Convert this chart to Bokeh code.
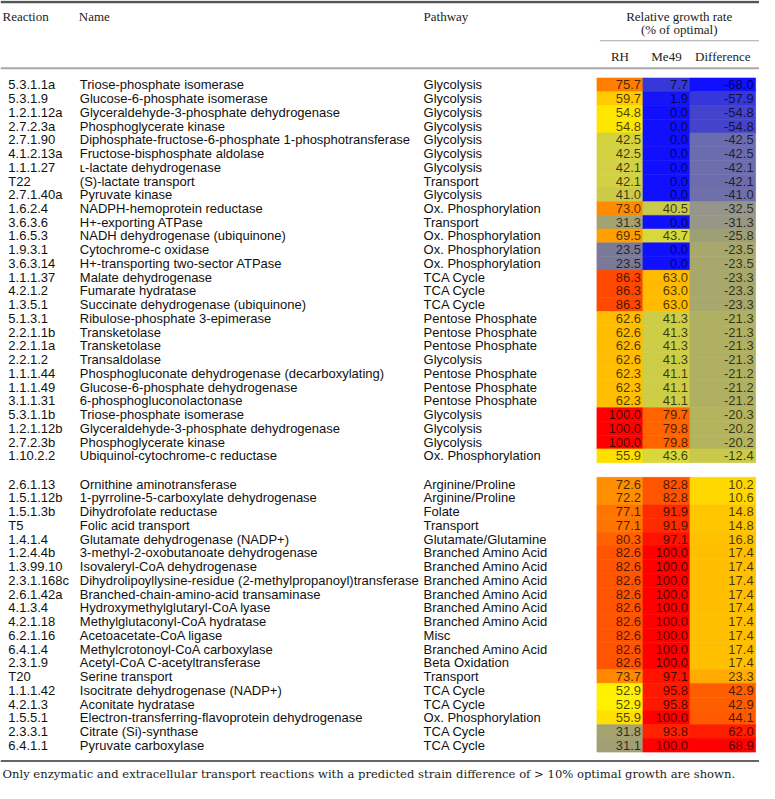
from bokeh.plotting import figure
from bokeh.models import Range1d, LinearColorMapper, ColumnDataSource
from bokeh.transform import transform
from bokeh.core.properties import value
from bokeh.embed import file_html
from bokeh.resources import INLINE

# ---------------- data ----------------
reaction_1 = ["5.3.1.1a", "5.3.1.9", "1.2.1.12a", "2.7.2.3a", "2.7.1.90", "4.1.2.13a", "1.1.1.27",
              "T22", "2.7.1.40a", "1.6.2.4", "3.6.3.6", "1.6.5.3", "1.9.3.1", "3.6.3.14",
              "1.1.1.37", "4.2.1.2", "1.3.5.1", "5.1.3.1", "2.2.1.1b", "2.2.1.1a", "2.2.1.2",
              "1.1.1.44", "1.1.1.49", "3.1.1.31", "5.3.1.1b", "1.2.1.12b", "2.7.2.3b", "1.10.2.2"]
name_1 = ["Triose-phosphate isomerase", "Glucose-6-phosphate isomerase",
          "Glyceraldehyde-3-phosphate dehydrogenase", "Phosphoglycerate kinase",
          "Diphosphate-fructose-6-phosphate 1-phosphotransferase", "Fructose-bisphosphate aldolase",
          "\u029f-lactate dehydrogenase", "(S)-lactate transport", "Pyruvate kinase",
          "NADPH-hemoprotein reductase", "H+-exporting ATPase", "NADH dehydrogenase (ubiquinone)",
          "Cytochrome-c oxidase", "H+-transporting two-sector ATPase", "Malate dehydrogenase",
          "Fumarate hydratase", "Succinate dehydrogenase (ubiquinone)", "Ribulose-phosphate 3-epimerase",
          "Transketolase", "Transketolase", "Transaldolase",
          "Phosphogluconate dehydrogenase (decarboxylating)", "Glucose-6-phosphate dehydrogenase",
          "6-phosphogluconolactonase", "Triose-phosphate isomerase",
          "Glyceraldehyde-3-phosphate dehydrogenase", "Phosphoglycerate kinase",
          "Ubiquinol-cytochrome-c reductase"]
pathway_1 = ["Glycolysis", "Glycolysis", "Glycolysis", "Glycolysis", "Glycolysis", "Glycolysis",
             "Glycolysis", "Transport", "Glycolysis", "Ox. Phosphorylation", "Transport",
             "Ox. Phosphorylation", "Ox. Phosphorylation", "Ox. Phosphorylation", "TCA Cycle",
             "TCA Cycle", "TCA Cycle", "Pentose Phosphate", "Pentose Phosphate", "Pentose Phosphate",
             "Glycolysis", "Pentose Phosphate", "Pentose Phosphate", "Pentose Phosphate",
             "Glycolysis", "Glycolysis", "Glycolysis", "Ox. Phosphorylation"]
rh_1 = [75.7, 59.7, 54.8, 54.8, 42.5, 42.5, 42.1, 42.1, 41.0, 73.0, 31.3, 69.5, 23.5, 23.5,
        86.3, 86.3, 86.3, 62.6, 62.6, 62.6, 62.6, 62.3, 62.3, 62.3, 100.0, 100.0, 100.0, 55.9]
me49_1 = [7.7, 1.9, 0.0, 0.0, 0.0, 0.0, 0.0, 0.0, 0.0, 40.5, 0.0, 43.7, 0.0, 0.0,
          63.0, 63.0, 63.0, 41.3, 41.3, 41.3, 41.3, 41.1, 41.1, 41.1, 79.7, 79.8, 79.8, 43.6]
diff_1 = [-68.0, -57.9, -54.8, -54.8, -42.5, -42.5, -42.1, -42.1, -41.0, -32.5, -31.3, -25.8,
          -23.5, -23.5, -23.3, -23.3, -23.3, -21.3, -21.3, -21.3, -21.3, -21.2, -21.2, -21.2,
          -20.3, -20.2, -20.2, -12.4]

reaction_2 = ["2.6.1.13", "1.5.1.12b", "1.5.1.3b", "T5", "1.4.1.4", "1.2.4.4b", "1.3.99.10",
              "2.3.1.168c", "2.6.1.42a", "4.1.3.4", "4.2.1.18", "6.2.1.16", "6.4.1.4", "2.3.1.9",
              "T20", "1.1.1.42", "4.2.1.3", "1.5.5.1", "2.3.3.1", "6.4.1.1"]
name_2 = ["Ornithine aminotransferase", "1-pyrroline-5-carboxylate dehydrogenase",
          "Dihydrofolate reductase", "Folic acid transport", "Glutamate dehydrogenase (NADP+)",
          "3-methyl-2-oxobutanoate dehydrogenase", "Isovaleryl-CoA dehydrogenase",
          "Dihydrolipoyllysine-residue (2-methylpropanoyl)transferase",
          "Branched-chain-amino-acid transaminase", "Hydroxymethylglutaryl-CoA lyase",
          "Methylglutaconyl-CoA hydratase", "Acetoacetate-CoA ligase",
          "Methylcrotonoyl-CoA carboxylase", "Acetyl-CoA C-acetyltransferase", "Serine transport",
          "Isocitrate dehydrogenase (NADP+)", "Aconitate hydratase",
          "Electron-transferring-flavoprotein dehydrogenase", "Citrate (Si)-synthase",
          "Pyruvate carboxylase"]
pathway_2 = ["Arginine/Proline", "Arginine/Proline", "Folate", "Transport", "Glutamate/Glutamine",
             "Branched Amino Acid", "Branched Amino Acid", "Branched Amino Acid",
             "Branched Amino Acid", "Branched Amino Acid", "Branched Amino Acid", "Misc",
             "Branched Amino Acid", "Beta Oxidation", "Transport", "TCA Cycle", "TCA Cycle",
             "Ox. Phosphorylation", "TCA Cycle", "TCA Cycle"]
rh_2 = [72.6, 72.2, 77.1, 77.1, 80.3, 82.6, 82.6, 82.6, 82.6, 82.6, 82.6, 82.6, 82.6, 82.6,
        73.7, 52.9, 52.9, 55.9, 31.8, 31.1]
me49_2 = [82.8, 82.8, 91.9, 91.9, 97.1, 100.0, 100.0, 100.0, 100.0, 100.0, 100.0, 100.0, 100.0,
          100.0, 97.1, 95.8, 95.8, 100.0, 93.8, 100.0]
diff_2 = [10.2, 10.6, 14.8, 14.8, 16.8, 17.4, 17.4, 17.4, 17.4, 17.4, 17.4, 17.4, 17.4, 17.4,
          23.3, 42.9, 42.9, 44.1, 62.0, 68.9]

col_headers = ["RH", "Me49", "Difference"]
footnote = ("Only enzymatic and extracellular transport reactions with a predicted strain "
            "difference of > 10% optimal growth are shown.")

# ---------------- palette (blue -> grey -> olive -> yellow -> orange -> red) ----------------
anchors = [(0.00, "#1010ff"), (0.02, "#1616f6"), (0.077, "#3a3ad8"), (0.096, "#4444cc"),
           (0.186, "#6c6cae"), (0.235, "#7a7a98"), (0.26, "#96968a"), (0.31, "#a0a074"),
           (0.325, "#a8a86c"), (0.34, "#b0b062"), (0.41, "#cccc48"), (0.43, "#d6d63e"),
           (0.53, "#fff000"), (0.55, "#ffe600"), (0.60, "#ffc800"), (0.63, "#ffbc00"),
           (0.70, "#ff9c00"), (0.73, "#ff8c00"), (0.757, "#ff7e00"), (0.80, "#ff6400"),
           (0.83, "#ff5400"), (0.863, "#ff4800"), (0.92, "#ff2c00"), (0.97, "#ff1400"),
           (1.00, "#ff0000")]


def _rgb(h):
    return tuple(int(h[i:i + 2], 16) for i in (1, 3, 5))


palette = []
for i in range(256):
    t = i / 255
    for (t0, c0), (t1, c1) in zip(anchors[:-1], anchors[1:]):
        if t0 <= t <= t1:
            f = (t - t0) / (t1 - t0) if t1 > t0 else 0
            a, b = _rgb(c0), _rgb(c1)
            palette.append("#%02x%02x%02x" % tuple(round(a[k] + (b[k] - a[k]) * f) for k in range(3)))
            break

growth_mapper = LinearColorMapper(palette=palette, low=0, high=100)
all_diff = diff_1 + diff_2
diff_mapper = LinearColorMapper(palette=palette, low=min(all_diff), high=max(all_diff))

# ---------------- figure ----------------
W, H = 759, 783
p = figure(width=W, height=H, output_backend="svg", toolbar_location=None,
           x_range=Range1d(0, 775), y_range=Range1d(start=798, end=0),
           x_axis_location=None, y_axis_location=None, min_border=0,
           outline_line_color=None, background_fill_color="white", border_fill_color="white")
p.grid.visible = False

ROW = 14
SANS = value("Liberation Sans")
SERIF = value("Liberation Serif")
BODY_SIZE = "13px"

col_left = [609, 656, 704]
col_right = [656, 704, 771]


def make_source(reac, nm, pw, rh, me, df, y0):
    ys = [y0 + ROW * i for i in range(len(reac))]
    return ColumnDataSource(dict(
        y=ys, top=[y - ROW / 2 for y in ys], bottom=[y + ROW / 2 for y in ys],
        reaction=reac, name=nm, pathway=pw, rh=rh, me49=me, diff=df,
        rh_s=["%.1f" % v for v in rh], me49_s=["%.1f" % v for v in me],
        diff_s=["%.1f" % v for v in df]))


sources = [make_source(reaction_1, name_1, pathway_1, rh_1, me49_1, diff_1, 86),
           make_source(reaction_2, name_2, pathway_2, rh_2, me49_2, diff_2, 493)]

for src in sources:
    for (fld, mapper), l, r in zip([("rh", growth_mapper), ("me49", growth_mapper),
                                    ("diff", diff_mapper)], col_left, col_right):
        p.quad(left=l, right=r, top="top", bottom="bottom", source=src,
               fill_color=transform(fld, mapper), line_color=transform(fld, mapper),
               line_width=0.6)
        p.text(x=r - 2, y="y", text=fld + "_s", source=src, text_align="right",
               text_baseline="middle", text_font=SANS, text_font_size=BODY_SIZE,
               text_color="black", text_alpha=0.72)
    p.text(x=8, y="y", text="reaction", source=src, text_align="left", text_baseline="middle",
           text_font=SANS, text_font_size=BODY_SIZE, text_color="#111111")
    p.text(x=81, y="y", text="name", source=src, text_align="left", text_baseline="middle",
           text_font=SANS, text_font_size=BODY_SIZE, text_color="#111111")
    p.text(x=432, y="y", text="pathway", source=src, text_align="left", text_baseline="middle",
           text_font=SANS, text_font_size=BODY_SIZE, text_color="#111111")

# ---------------- header ----------------
HS = "13px"
p.text(x=[2, 80, 432], y=[16, 16, 16], text=["Reaction", "Name", "Pathway"], text_align="left",
       text_baseline="middle", text_font=SERIF, text_font_size=HS, text_color="#222222")
p.text(x=[693, 693], y=[16, 30], text=["Relative growth rate", "(% of optimal)"],
       text_align="center", text_baseline="middle", text_font=SERIF, text_font_size=HS,
       text_color="#222222")
p.text(x=[(l + r) / 2 for l, r in zip(col_left, col_right)], y=[57, 57, 57], text=col_headers,
       text_align="center", text_baseline="middle", text_font=SERIF, text_font_size=HS,
       text_color="#222222")

# rules
p.segment(x0=[0], y0=[1.5], x1=[775], y1=[1.5], line_color="#555555", line_width=2.5)
p.segment(x0=[612], y0=[41], x1=[775], y1=[41], line_color="#aaaaaa", line_width=1)
p.segment(x0=[0], y0=[69], x1=[775], y1=[69], line_color="#a8a8a8", line_width=2)
p.segment(x0=[0], y0=[775], x1=[775], y1=[775], line_color="#666666", line_width=2)

p.text(x=[2], y=[788], text=[footnote], text_align="left", text_baseline="middle",
       text_font=value("DejaVu Serif"), text_font_size="11.6px", text_color="#222222")

open("out.html", "w").write(file_html(p, INLINE))
